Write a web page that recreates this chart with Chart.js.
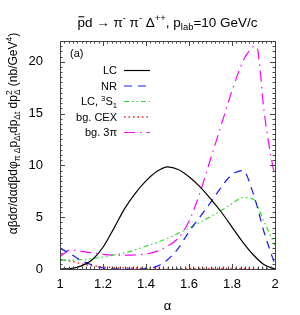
<!DOCTYPE html>
<html>
<head>
<meta charset="utf-8">
<script src="https://cdn.jsdelivr.net/npm/chart.js@4.4.0/dist/chart.umd.min.js"></script>
<style>
  html, body { margin: 0; padding: 0; background: #fff; }
</style>
</head>
<body>
<canvas id="myChart" width="300" height="315"></canvas>
<script>
// alpha grid shared by LC, NR, LC 3S1 and bg. CEX
const alpha = [1.00, 1.05, 1.10, 1.15, 1.20, 1.25, 1.30, 1.35, 1.40, 1.45, 1.50,
               1.55, 1.60, 1.65, 1.70, 1.75, 1.80, 1.85, 1.90, 1.95, 2.00];
const lcVals   = [0, 0.05, 0.3, 0.9, 2.1, 3.9, 5.8, 7.3, 8.5, 9.4, 9.85,
                  9.6, 8.9, 7.95, 6.8, 5.5, 4.05, 2.6, 1.35, 0.4, 0];
const nrVals   = [2.0, 1.45, 0.8, 0.38, 0.1, 0.02, 0, 0, 0.03, 0.25, 0.9,
                  2.0, 3.6, 5.0, 6.4, 7.9, 9.1, 9.5, 7.2, 3.5, 0.4];
const s1Vals   = [0.85, 0.85, 0.9, 1.0, 1.15, 1.35, 1.55, 1.85, 2.2, 2.55, 2.95,
                  3.45, 3.95, 4.5, 5.05, 5.65, 6.3, 6.9, 6.7, 4.5, 2.3];
const cexVals  = [0.9, 0.75, 0.5, 0.32, 0.2, 0.15, 0.12, 0.1, 0.09, 0.08, 0.07,
                  0.06, 0.06, 0.05, 0.05, 0.05, 0.05, 0.05, 0.05, 0.05, 0.05];
// bg. 3pi has a sharp peak, so it gets a few extra points near 1.9
const alpha3pi = [1.00, 1.05, 1.10, 1.15, 1.20, 1.25, 1.30, 1.35, 1.40, 1.45, 1.50,
                  1.55, 1.60, 1.65, 1.70, 1.75, 1.80, 1.85, 1.875, 1.90, 1.915, 1.93, 1.945, 1.97, 2.00];
const pi3Vals  = [1.2, 1.85, 1.7, 1.55, 1.42, 1.35, 1.33, 1.35, 1.45, 1.7, 2.2,
                  3.0, 4.6, 7.3, 10.6, 13.9, 17.2, 20.0, 20.9, 21.45, 21.45, 19.4, 16.0, 12.2, 8.8];

const xTickStep = 0.2;
const yTickStep = 5;

const FONT = '"Liberation Sans", Arial, Helvetica, sans-serif';

function pts(xs, ys) {
  return xs.map((x, i) => ({ x: x, y: ys[i] }));
}

// text with sub/superscripts, drawn left to right from x at baseline y
function richWidth(ctx, segs, size) {
  let w = 0;
  segs.forEach(s => {
    if (s.k === 'both') {
      ctx.font = (size * 0.7) + 'px ' + FONT;
      w += Math.max(ctx.measureText(s.sup).width, ctx.measureText(s.sub).width);
    } else {
      ctx.font = (s.k ? size * 0.7 : size) + 'px ' + FONT;
      w += ctx.measureText(s.t).width;
    }
  });
  return w;
}
function drawRich(ctx, segs, x, y, size) {
  let cx = x;
  segs.forEach(s => {
    if (s.k === 'both') {
      ctx.font = (size * 0.7) + 'px ' + FONT;
      ctx.fillText(s.sup, cx, y - size * 0.4);
      ctx.fillText(s.sub, cx, y + size * 0.25);
      cx += Math.max(ctx.measureText(s.sup).width, ctx.measureText(s.sub).width);
      return;
    }
    const fs = s.k ? size * 0.7 : size;
    ctx.font = fs + 'px ' + FONT;
    const dy = s.k === 'sup' ? -size * 0.4 : s.k === 'sub' ? size * 0.25 : 0;
    ctx.fillText(s.t, cx, y + dy);
    const w = ctx.measureText(s.t).width;
    if (s.bar) {
      ctx.save();
      ctx.lineWidth = 1;
      ctx.strokeStyle = '#000';
      ctx.beginPath();
      ctx.moveTo(cx + 1, y - size * 0.72);
      ctx.lineTo(cx + w - 0.5, y - size * 0.72);
      ctx.stroke();
      ctx.restore();
    }
    cx += w;
  });
}

const titleSegs = [
  { t: 'p', bar: true }, { t: 'd \u2192 \u03c0' }, { t: '-', k: 'sup' }, { t: ' \u03c0' }, { t: '-', k: 'sup' },
  { t: ' \u0394' }, { t: '++', k: 'sup' }, { t: ', p' }, { t: 'lab', k: 'sub' }, { t: '=10 GeV/c' }
];
const yTitleSegs = [
  { t: '\u03b1\u03b2d\u03c3/d\u03b1d\u03b2d\u03c6' }, { t: '\u03c0 \u0394', k: 'sub' },
  { t: 'p' }, { t: '\u0394t', k: 'sub' }, { t: 'dp' }, { t: '\u0394t', k: 'sub' },
  { t: ' dp' }, { k: 'both', sup: '2', sub: '\u0394' }, { t: ' (nb/GeV' }, { t: '4', k: 'sup' }, { t: ')' }
];
const legendSegs = [
  [{ t: 'LC' }],
  [{ t: 'NR' }],
  [{ t: 'LC, ' }, { t: '3', k: 'sup' }, { t: 'S' }, { t: '1', k: 'sub' }],
  [{ t: 'bg. CEX' }],
  [{ t: 'bg. 3\u03c0' }]
];

const decor = {
  id: 'decor',
  afterDraw(chart) {
    const ctx = chart.ctx;
    const a = chart.chartArea;
    const xs = chart.scales.x, ys = chart.scales.y;
    ctx.save();

    // frame
    ctx.strokeStyle = '#444';
    ctx.lineWidth = 1;
    ctx.setLineDash([]);
    ctx.strokeRect(a.left + 0.5, a.top + 0.5, a.right - a.left, a.bottom - a.top);

    // inward ticks on all four sides
    ctx.beginPath();
    for (let i = 0; i <= 50; i++) {
      const px = Math.round(xs.getPixelForValue(1 + i * 0.02)) + 0.5;
      const len = i % 10 === 0 ? 5 : 2.5;
      ctx.moveTo(px, a.bottom); ctx.lineTo(px, a.bottom - len);
      ctx.moveTo(px, a.top); ctx.lineTo(px, a.top + len);
    }
    for (let i = 0; i <= 44; i++) {
      const py = Math.round(ys.getPixelForValue(i * 0.5)) + 0.5;
      const len = i % 10 === 0 ? 5 : 2.5;
      ctx.moveTo(a.left, py); ctx.lineTo(a.left + len, py);
      ctx.moveTo(a.right, py); ctx.lineTo(a.right - len, py);
    }
    ctx.stroke();

    ctx.fillStyle = '#000';
    ctx.textBaseline = 'alphabetic';
    ctx.textAlign = 'left';

    // title
    const tSize = 13.5;
    const tw = richWidth(ctx, titleSegs, tSize);
    drawRich(ctx, titleSegs, (a.left + a.right) / 2 - tw / 2, 26.5, tSize);

    // x title
    ctx.font = '13px ' + FONT;
    ctx.textAlign = 'center';
    ctx.fillText('\u03b1', (a.left + a.right) / 2, 310);

    // y title
    const ySize = 12;
    const yw = richWidth(ctx, yTitleSegs, ySize);
    ctx.save();
    ctx.translate(17, 133.5);
    ctx.rotate(-Math.PI / 2);
    ctx.textAlign = 'left';
    drawRich(ctx, yTitleSegs, -yw / 2, 0, ySize);
    ctx.restore();

    // panel tag
    ctx.textAlign = 'left';
    ctx.font = '11px ' + FONT;
    ctx.fillText('(a)', 70, 57);

    // legend
    chart.data.datasets.forEach((ds, i) => {
      const ly = 70 + i * 15.5;
      const segs = legendSegs[i];
      const w = richWidth(ctx, segs, 11);
      ctx.fillStyle = '#000';
      drawRich(ctx, segs, 117 - w, ly + 4, 11);
      ctx.strokeStyle = ds.borderColor;
      ctx.lineWidth = ds.borderWidth;
      ctx.setLineDash(ds.borderDash || []);
      ctx.beginPath();
      ctx.moveTo(124, ly + 0.5);
      ctx.lineTo(150, ly + 0.5);
      ctx.stroke();
    });
    ctx.restore();
  }
};

const ctx = document.getElementById('myChart');
const myChart = new Chart(ctx, {
  type: 'line',
  data: {
    datasets: [
      { label: 'LC', data: pts(alpha, lcVals), borderColor: '#000000', borderWidth: 1.2, borderDash: [] },
      { label: 'NR', data: pts(alpha, nrVals), borderColor: '#1a1aff', borderWidth: 1.2, borderDash: [8, 6] },
      { label: 'LC, 3S1', data: pts(alpha, s1Vals), borderColor: '#22e022', borderWidth: 1.2, borderDash: [5, 3, 1.5, 3, 1.5, 3] },
      { label: 'bg. CEX', data: pts(alpha, cexVals), borderColor: '#ff2020', borderWidth: 1.4, borderDash: [1.5, 3] },
      { label: 'bg. 3pi', data: pts(alpha3pi, pi3Vals), borderColor: '#ff00ff', borderWidth: 1.2, borderDash: [11, 5, 1.5, 5] }
    ]
  },
  options: {
    responsive: false,
    animation: false,
    devicePixelRatio: 1,
    layout: { padding: { left: 0, right: 25, top: 41, bottom: 0 } },
    elements: {
      point: { radius: 0 },
      line: { cubicInterpolationMode: 'monotone', fill: false }
    },
    scales: {
      x: {
        type: 'linear',
        min: 1,
        max: 2,
        grid: { display: false, drawTicks: false },
        border: { display: false },
        ticks: {
          stepSize: xTickStep, color: '#000', font: { size: 13, family: FONT }, padding: 8, maxRotation: 0,
          callback: (v) => String(Number(v.toFixed(1)))
        },
        afterFit: (s) => { s.height = 46; }
      },
      y: {
        min: 0,
        max: 22,
        grid: { display: false, drawTicks: false },
        border: { display: false },
        ticks: { stepSize: yTickStep, color: '#000', font: { size: 13, family: FONT }, padding: 17 },
        afterBuildTicks: (s) => { s.ticks = s.ticks.filter(t => t.value % yTickStep === 0); },
        afterFit: (s) => { s.width = 60; }
      }
    },
    plugins: {
      legend: { display: false },
      tooltip: { enabled: false },
      title: { display: false }
    }
  },
  plugins: [decor]
});
</script>
</body>
</html>
